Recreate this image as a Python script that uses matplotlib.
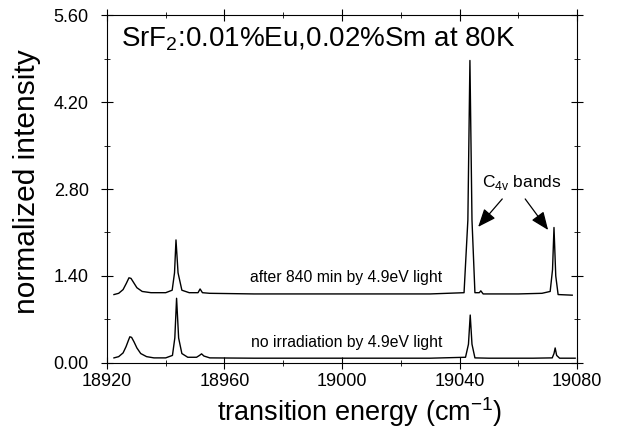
import numpy as np
import matplotlib
matplotlib.use("Agg")
import matplotlib.pyplot as plt
from matplotlib.ticker import MultipleLocator, FormatStrFormatter

# spectra (transition energy in cm-1, normalized intensity)
noirr_x = [18922.4, 18924.0, 18925.5, 18926.5, 18927.3, 18927.8, 18928.4, 18929.2,
           18930.2, 18931.5, 18933.5, 18936.0, 18940.0, 18942.3, 18943.1, 18943.7,
           18944.4, 18945.5, 18947.5, 18950.5, 18951.5, 18952.2, 18953.0, 18955.0,
           18970.0, 19000.0, 19030.0, 19042.0, 19043.0, 19043.6, 19044.2, 19045.2,
           19050.0, 19065.0, 19071.5, 19072.1, 19072.5, 19073.0, 19074.0, 19079.3]
noirr_y = [0.08, 0.10, 0.16, 0.26, 0.36, 0.42, 0.41, 0.34,
           0.24, 0.15, 0.10, 0.08, 0.08, 0.12, 0.40, 1.04,
           0.40, 0.15, 0.09, 0.09, 0.12, 0.145, 0.11, 0.08,
           0.075, 0.075, 0.075, 0.09, 0.30, 0.77, 0.30, 0.08,
           0.075, 0.075, 0.08, 0.15, 0.24, 0.12, 0.075, 0.075]

after_x = [18922.4, 18924.0, 18925.5, 18926.6, 18927.5, 18928.2, 18929.0, 18930.2,
           18932.0, 18935.0, 18940.0, 18942.2, 18943.0, 18943.5, 18944.2, 18945.5,
           18948.0, 18951.0, 18951.7, 18952.5, 18955.0, 18970.0, 19000.0, 19030.0,
           19041.5, 19042.8, 19043.5, 19044.2, 19045.2, 19046.7, 19047.2, 19048.0,
           19060.0, 19068.0, 19070.8, 19071.6, 19072.1, 19072.7, 19073.5, 19078.3]
after_y = [1.10, 1.12, 1.18, 1.28, 1.37, 1.36, 1.30, 1.21,
           1.15, 1.13, 1.13, 1.17, 1.45, 1.98, 1.45, 1.17,
           1.13, 1.13, 1.19, 1.13, 1.12, 1.11, 1.11, 1.11,
           1.13, 2.30, 4.87, 2.30, 1.13, 1.13, 1.16, 1.11,
           1.11, 1.12, 1.15, 1.50, 2.18, 1.40, 1.10, 1.09]

title = "SrF$_2$:0.01%Eu,0.02%Sm at 80K"
label_after = "after 840 min by 4.9eV light"
label_noirr = "no irradiation by 4.9eV light"

plt.rcParams['font.family'] = ['Liberation Sans', 'DejaVu Sans']
plt.rcParams['mathtext.fontset'] = 'custom'
plt.rcParams['mathtext.rm'] = 'Liberation Sans'

fig = plt.figure(figsize=(6.18, 4.33), dpi=100)
ax = fig.add_axes([0.173, 0.162, 0.761, 0.803])

ax.plot(noirr_x, noirr_y, color='black', lw=1.0)
ax.plot(after_x, after_y, color='black', lw=1.0)

ax.set_xlim(18920, 19080)
ax.set_ylim(0, 5.6)
ax.xaxis.set_major_locator(MultipleLocator(40))
ax.xaxis.set_minor_locator(MultipleLocator(20))
ax.yaxis.set_major_locator(MultipleLocator(1.4))
ax.yaxis.set_minor_locator(MultipleLocator(0.7))
ax.yaxis.set_major_formatter(FormatStrFormatter('%.2f'))
ax.tick_params(which='both', direction='inout', top=True, right=True,
               labelsize=13)
ax.tick_params(which='major', length=8)
ax.tick_params(which='minor', length=5)
ax.tick_params(axis='y', pad=9)

ax.set_xlabel("transition energy (cm$^{-1}$)", fontsize=19.5)
ax.set_ylabel("normalized intensity", fontsize=21.5)
ax.xaxis.set_label_coords(0.538, -0.092)
ax.yaxis.set_label_coords(-0.14, 0.52)

ax.text(0.03, 0.972, title, transform=ax.transAxes, fontsize=20,
        va='top', ha='left')
ax.text(19034, 1.37, label_after, fontsize=11.3, ha='right', va='center')
ax.text(19034, 0.32, label_noirr, fontsize=11.3, ha='right', va='center')

ax.text(19061, 2.90, "C$_{\\rm 4v}$ bands", fontsize=12.5,
        ha='center', va='center')
arrow = dict(arrowstyle='-|>,head_length=1.1,head_width=0.45', color='black',
             lw=0.9, shrinkA=0, shrinkB=0)
ax.annotate("", xy=(19046.3, 2.19), xytext=(19054.5, 2.64), arrowprops=arrow)
ax.annotate("", xy=(19070.1, 2.14), xytext=(19062.3, 2.64), arrowprops=arrow)

fig.savefig("out.png", dpi=100)
